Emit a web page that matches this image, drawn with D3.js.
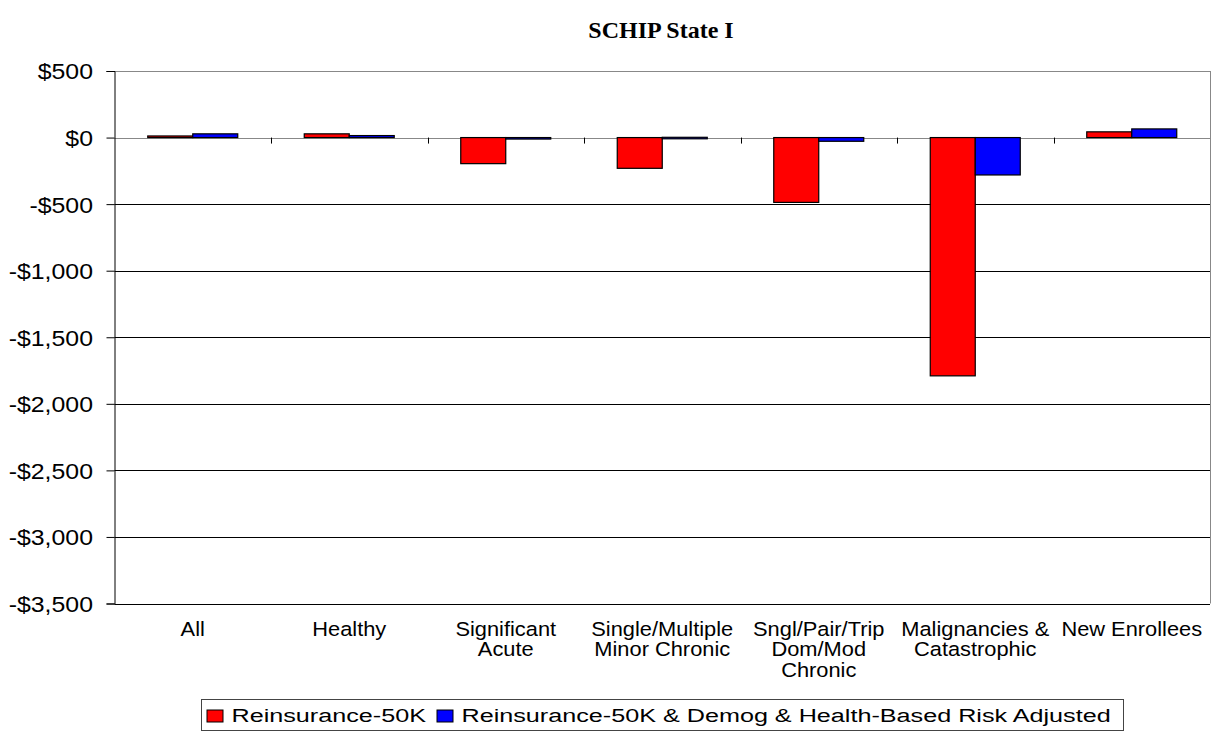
<!DOCTYPE html>
<html>
<head>
<meta charset="utf-8">
<script src="https://cdn.jsdelivr.net/npm/d3@7"></script>
<style>
body { margin: 0; background: #fff; }
svg text { font-family: Arial, "Liberation Sans", sans-serif; fill: #000; }
</style>
</head>
<body>
<div id="chart"></div>
<script>
// categories, each label split into lines
var categories = [
    ["All"],
    ["Healthy"],
    ["Significant", "Acute"],
    ["Single/Multiple", "Minor Chronic"],
    ["Sngl/Pair/Trip", "Dom/Mod", "Chronic"],
    ["Malignancies &", "Catastrophic"],
    ["New Enrollees"]
];
var series_names = [
    "Reinsurance-50K",
    "Reinsurance-50K & Demog & Health-Based Risk Adjusted"
];
var reins_50k = [12, 28, -196, -231, -487, -1790, 43];
var reins_adj = [28, 15, -3, 2, -28, -281, 65];
var y_ticks = [500, 0, -500, -1000, -1500, -2000, -2500, -3000, -3500];
var colors = ["#ff0000", "#0000ff"];

var width = 1213, height = 732;
var plot_left = 114.5, plot_right = 1210, plot_top = 71, plot_bottom = 603.5;

var svg = d3.select("#chart").append("svg")
    .attr("width", width)
    .attr("height", height);

var x = d3.scaleBand()
    .domain(d3.range(categories.length))
    .range([plot_left, plot_right])
    .paddingInner(0)
    .paddingOuter(0);

var y = d3.scaleLinear()
    .domain([-3500, 500])
    .range([plot_bottom, plot_top]);

var fmt = function(v) {
    var s = "$" + d3.format(",")(Math.abs(v));
    return v < 0 ? "-" + s : s;
};

// title
svg.append("text")
    .attr("x", 661)
    .attr("y", 38)
    .attr("text-anchor", "middle")
    .style("font-family", "'Liberation Serif', 'Times New Roman', serif")
    .style("font-weight", "bold")
    .style("font-size", "24px")
    .text("SCHIP State I");

// gridlines
svg.append("g").selectAll("line")
    .data(y_ticks)
    .enter().append("line")
    .attr("x1", plot_left)
    .attr("x2", plot_right)
    .attr("y1", function(d) { return Math.round(y(d)) + 0.5; })
    .attr("y2", function(d) { return Math.round(y(d)) + 0.5; })
    .attr("stroke", function(d) { return (d === 500 || d === 0) ? "#888" : "#000"; })
    .attr("stroke-width", 1);

// right border
svg.append("line")
    .attr("x1", plot_right + 0.5).attr("x2", plot_right + 0.5)
    .attr("y1", plot_top).attr("y2", plot_bottom)
    .attr("stroke", "#888");

// bars
var groups = [reins_50k, reins_adj];
var barw = 45;
groups.forEach(function(vals, si) {
    svg.append("g").selectAll("rect")
        .data(vals)
        .enter().append("rect")
        .attr("x", function(d, i) { return x(i) + x.bandwidth() / 2 - barw + si * barw; })
        .attr("y", function(d) { return y(Math.max(0, d)); })
        .attr("width", barw)
        .attr("height", function(d) { return Math.max(1.5, Math.abs(y(d) - y(0))); })
        .attr("fill", colors[si])
        .attr("stroke", "#000")
        .attr("stroke-width", 1.2);
});

// y axis (the original's text is a bit stretched sideways)
var yAxis = d3.axisLeft(y)
    .tickValues(y_ticks)
    .tickFormat(fmt)
    .tickSize(8)
    .tickPadding(14);
var yg = svg.append("g")
    .attr("transform", "translate(" + plot_left + ",0)")
    .call(yAxis);
yg.select(".domain").attr("stroke", "#000");
yg.selectAll(".tick line").attr("stroke", "#000");
yg.selectAll(".tick text")
    .attr("x", 0)
    .attr("dy", "0.36em")
    .attr("transform", "translate(-21.5,0) scale(1.13,1)")
    .style("font-size", "22px")
    .style("font-family", "Arial, 'Liberation Sans', sans-serif");

// category ticks on zero line
svg.append("g").selectAll("line")
    .data(d3.range(1, categories.length))
    .enter().append("line")
    .attr("x1", function(d) { return Math.round(x(d)) + 0.5; })
    .attr("x2", function(d) { return Math.round(x(d)) + 0.5; })
    .attr("y1", y(0))
    .attr("y2", y(0) + 6)
    .attr("stroke", "#000");

// category labels
var lab = svg.append("g").selectAll("text")
    .data(categories)
    .enter().append("text")
    .attr("text-anchor", "middle")
    .attr("transform", function(d, i) {
        return "translate(" + (x(i) + x.bandwidth() / 2) + ",636) scale(1.12,1)";
    })
    .style("font-size", "19.5px");
lab.selectAll("tspan")
    .data(function(d) { return d; })
    .enter().append("tspan")
    .attr("x", 0)
    .attr("dy", function(d, i) { return i === 0 ? 0 : 20.5; })
    .text(function(d) { return d; });

// legend
var legend = svg.append("g");
legend.append("rect")
    .attr("x", 201.5).attr("y", 699.5)
    .attr("width", 922).attr("height", 31)
    .attr("fill", "#fff")
    .attr("stroke", "#444");
var lx = [207, 437];
series_names.forEach(function(name, i) {
    legend.append("rect")
        .attr("x", lx[i]).attr("y", 710)
        .attr("width", 16).attr("height", 12)
        .attr("fill", colors[i])
        .attr("stroke", "#000");
    legend.append("text")
        .attr("transform", "translate(" + (lx[i] + 24.5) + ",722) scale(1.325,1)")
        .style("font-size", "19px")
        .text(name);
});
</script>
</body>
</html>
